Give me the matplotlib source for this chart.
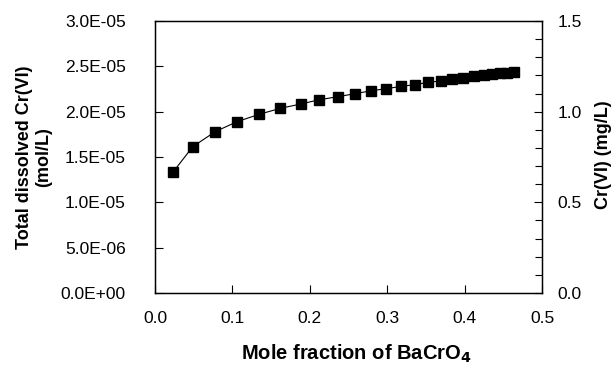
import matplotlib
matplotlib.use("Agg")
import matplotlib.pyplot as plt
from matplotlib.ticker import MultipleLocator, FormatStrFormatter

plt.rcParams['font.family'] = ['Liberation Sans', 'DejaVu Sans']

# Daten
mole_fraction = [0.0237, 0.0488, 0.0777, 0.1058, 0.1347, 0.1619, 0.1887, 0.2124,
                 0.2362, 0.2582, 0.2794, 0.2988, 0.3183, 0.3355, 0.3528, 0.3692,
                 0.3843, 0.3985, 0.4120, 0.4245, 0.4360, 0.4460, 0.4550, 0.4635]
cr_mol_l = [1.338e-5, 1.614e-5, 1.779e-5, 1.889e-5, 1.971e-5, 2.037e-5, 2.085e-5,
            2.132e-5, 2.165e-5, 2.198e-5, 2.231e-5, 2.253e-5, 2.280e-5, 2.297e-5,
            2.324e-5, 2.338e-5, 2.357e-5, 2.375e-5, 2.390e-5, 2.402e-5, 2.413e-5,
            2.422e-5, 2.430e-5, 2.438e-5]

W, H = 616, 365
fig = plt.figure(figsize=(W / 100, H / 100), dpi=100)
ax = fig.add_axes([155 / W, 1 - 293 / H, (542 - 155) / W, (293 - 21) / H])

ax.plot(mole_fraction, cr_mol_l, color="black", linewidth=0.8,
        marker="s", markersize=7.5, markerfacecolor="black", markeredgecolor="black")

ax.set_xlim(0, 0.5)
ax.set_ylim(0, 3.0e-5)
ax.xaxis.set_major_locator(MultipleLocator(0.1))
ax.xaxis.set_major_formatter(FormatStrFormatter("%.1f"))
ax.yaxis.set_major_locator(MultipleLocator(5e-6))
ax.yaxis.set_major_formatter(plt.FuncFormatter(lambda v, p: "{:.1E}".format(v)))
ax.tick_params(axis="x", direction="in", length=6, width=0.8, labelsize=12.5, pad=13)
ax.tick_params(axis="y", direction="in", length=6, width=0.8, labelsize=12.5, pad=21)
for s in ax.spines.values():
    s.set_linewidth(1.0)

# Achsentitel
fig.text(356 / W, 1 - 354 / H, "Mole fraction of BaCrO$_\\mathbf{4}$", fontsize=14.5,
         fontweight="bold", ha="center", va="center")
fig.text(34 / W, 1 - 157 / H, "Total dissolved Cr(VI)\n(mol/L)", fontsize=13,
         fontweight="bold", ha="center", va="center", rotation=90,
         multialignment="center", linespacing=1.15)

# rechte Achse in mg/L
ax2 = ax.twinx()
ax2.set_ylim(0, 1.5)
ax2.yaxis.set_major_locator(MultipleLocator(0.5))
ax2.yaxis.set_minor_locator(MultipleLocator(0.1))
ax2.yaxis.set_major_formatter(FormatStrFormatter("%.1f"))
ax2.tick_params(axis="y", which="major", direction="in", length=6, width=0.8,
                labelsize=12.5, pad=11)
ax2.tick_params(axis="y", which="minor", direction="in", length=5, width=0.8)
fig.text(604 / W, 1 - 155 / H, "Cr(VI) (mg/L)", fontsize=13, fontweight="bold",
         ha="center", va="center", rotation=90)

fig.savefig("out.png", dpi=100)
